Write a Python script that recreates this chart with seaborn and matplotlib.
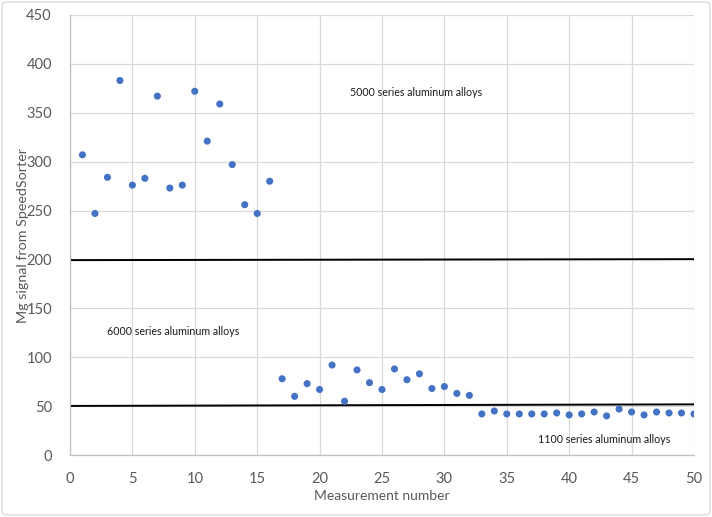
import numpy as np
import pandas as pd
import matplotlib
matplotlib.use("Agg")
import matplotlib.pyplot as plt
import seaborn as sns
from matplotlib.patches import FancyBboxPatch

# 측정 데이터
measurement = list(range(1, 51))
mg_signal = [
    307, 247, 284, 383, 276, 283, 367, 273, 276, 372,
    321, 359, 297, 256, 247, 280, 78, 60, 73, 67,
    92, 55, 87, 74, 67, 88, 77, 83, 68, 70,
    63, 61, 42, 45, 42, 42, 42, 42, 43, 41,
    42, 44, 40, 47, 44, 41, 44, 43, 43, 42,
]

# 구분선 (x 시작/끝, y 시작/끝)
line_x = [0, 50]
line_5000 = [199.3, 200.3]
line_1100 = [50.2, 51.8]

labels = ["5000 series aluminum alloys", "6000 series aluminum alloys",
          "1100 series aluminum alloys"]
label_x = [22.4, 3.0, 37.5]
label_y = [371, 126, 16]

df = pd.DataFrame({"Measurement number": measurement, "Mg": mg_signal})

sns.set_theme(style="white")
plt.rcParams["font.family"] = ["Lato", "DejaVu Sans"]

fig = plt.figure(figsize=(7.12, 5.17), dpi=100)
ax = fig.add_axes([0.0983, 0.1199, 0.8764, 0.8511])

sns.scatterplot(data=df, x="Measurement number", y="Mg", ax=ax,
                color="#4472C4", s=26, edgecolor="none", zorder=3)

ax.plot(line_x, line_5000, color="black", lw=1.4, zorder=2)
ax.plot(line_x, line_1100, color="black", lw=1.4, zorder=2)

for t, x, y in zip(labels, label_x, label_y):
    ax.text(x, y, t, fontsize=7.7, color="#1a1a1a", va="center", ha="left")

ax.set_xlim(0, 50)
ax.set_ylim(0, 450)
ax.set_xticks(np.arange(0, 51, 5))
ax.set_yticks(np.arange(0, 451, 50))
ax.grid(True, color="#D9D9D9", lw=0.9)
ax.set_axisbelow(True)
for side in ["top", "right"]:
    ax.spines[side].set_visible(False)
for side in ["left", "bottom"]:
    ax.spines[side].set_color("#BFBFBF")
    ax.spines[side].set_linewidth(0.9)
ax.tick_params(axis="both", colors="#595959", labelsize=10.5, length=0)
ax.tick_params(axis="x", pad=12)
ax.tick_params(axis="y", pad=13)
ax.set_xlabel("Measurement number", fontsize=10, color="#595959")
ax.set_ylabel("Mg signal from SpeedSorter", fontsize=10.3, color="#595959")
ax.xaxis.set_label_coords(0.5, -0.079)
ax.yaxis.set_label_coords(-0.066, 0.5)

border = FancyBboxPatch((0.003, 0.004), 0.994, 0.992, boxstyle="round,pad=0,rounding_size=0.006",
                        transform=fig.transFigure, fill=False, edgecolor="#D9D9D9", lw=1)
fig.patches.append(border)

fig.savefig("out.png", dpi=100)
